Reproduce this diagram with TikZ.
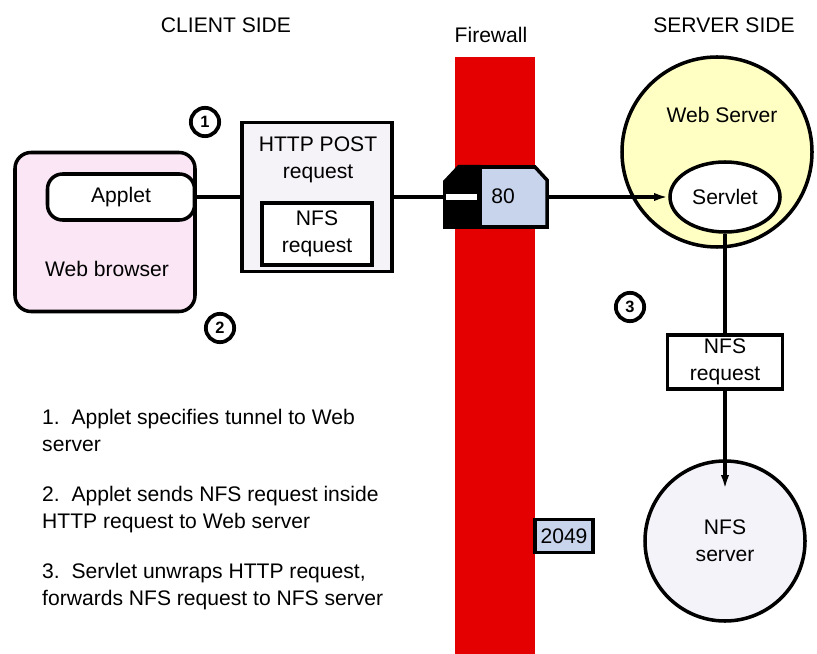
\documentclass[tikz,border=0pt]{standalone}
\usepackage{fontspec}
\setmainfont{Liberation Sans}
\usetikzlibrary{positioning}
\usetikzlibrary{shapes.geometric}
\usetikzlibrary{arrows.meta}
\definecolor{browserpink}{RGB}{251,230,246}
\definecolor{postgray}{RGB}{245,242,248}
\definecolor{portblue}{RGB}{200,212,236}
\definecolor{serveryellow}{RGB}{255,255,196}
\definecolor{nfsgray}{RGB}{243,243,249}
\definecolor{wallred}{RGB}{228,0,0}

\begin{document}
\begin{tikzpicture}[x=0.03cm,y=-0.03cm,
  every node/.style={font=\fontsize{18}{23}\selectfont,align=center},
  box/.style={draw,line width=3pt,inner sep=0pt},
  wire/.style={line width=3pt},
  tip/.style={-{Latex[length=12pt,width=7pt]}},
  stepnum/.style={draw,circle,line width=3.2pt,minimum size=0.85cm,inner sep=0pt,font=\fontsize{14}{14}\selectfont\bfseries},
  listtext/.style={anchor=north west,align=left,inner sep=0pt}]
 \useasboundingbox (0,0) rectangle (817,654);
 \fill[wallred] (455,57) rectangle (535,654);
 \node (client) at (226,25) {CLIENT SIDE};
 \node (wall) at (491,35) {Firewall};
 \node (server) at (724,25) {SERVER SIDE};

 \node[box,rounded corners=0.48cm,fill=browserpink,minimum width=5.4cm,minimum height=4.77cm] (browser) at (105,232) {};
 \node[box,rounded corners=0.45cm,fill=white,minimum width=4.41cm,minimum height=1.38cm] (applet) at (121,197) {Applet};
 \node (browserlbl) at (107,269) {Web browser};

 \node[box,fill=postgray,minimum width=4.5cm,minimum height=4.47cm] (http) at (317,197) {};
 \node (postlbl) at (318,160) {HTTP POST\\request};
 \node[box,fill=white,minimum width=3.3cm,minimum height=1.86cm] (nfsin) at (317,234) {NFS\\request};

 \node[minimum width=3.12cm,minimum height=1.8cm] (port) at (495,197) {};
 \filldraw[portblue,draw=black,line width=3pt] (480,167) -- (535,167) -- (547,180) -- (547,227) -- (480,227) -- cycle;
 \fill[black] (481,165) -- (458,165) -- (443,181) -- (443,229) -- (481,229) -- cycle;
 \fill[white] (446,194) rectangle (477,200);
 \node (portnum) at (503,196) {80};

 \node[box,circle,fill=serveryellow,minimum size=5.7cm] (websrv) at (717,152) {};
 \node (websrvlbl) at (722,115) {Web Server};
 \node[box,ellipse,fill=white,minimum width=3.3cm,minimum height=2.1cm] (servlet) at (725,197) {Servlet};
 \node[box,fill=white,minimum width=3.45cm,minimum height=1.62cm] (nfsreq) at (725,362) {NFS\\request};
 \node[box,circle,fill=nfsgray,minimum size=4.8cm] (nfssrv) at (725,541) {NFS\\server};
 \node[box,fill=portblue,minimum width=1.74cm,minimum height=0.99cm] (nfsport) at (564,536) {2049};

 \draw[wire] (applet.east) -- (http.west);
 \draw[wire] (http.east) -- (port.west);
 \draw[wire,tip] (port.east) -- (servlet.west);
 \draw[wire] (servlet.south) -- (nfsreq.north);
 \draw[wire,tip,shorten >=-0.9cm] (nfsreq.south) -- (nfssrv.north);

 \node[stepnum] (s1) at (205,122) {1};
 \node[stepnum] (s2) at (220,328) {2};
 \node[stepnum] (s3) at (630,307) {3};

 \node[listtext] (item1) at (42,409) {1.\ \ Applet specifies tunnel to Web\\server};
 \node[listtext] (item2) at (42,486) {2.\ \ Applet sends NFS request inside\\HTTP request to Web server};
 \node[listtext] (item3) at (42,563) {3.\ \ Servlet unwraps HTTP request,\\forwards NFS request to NFS server};
\end{tikzpicture}
\end{document}
